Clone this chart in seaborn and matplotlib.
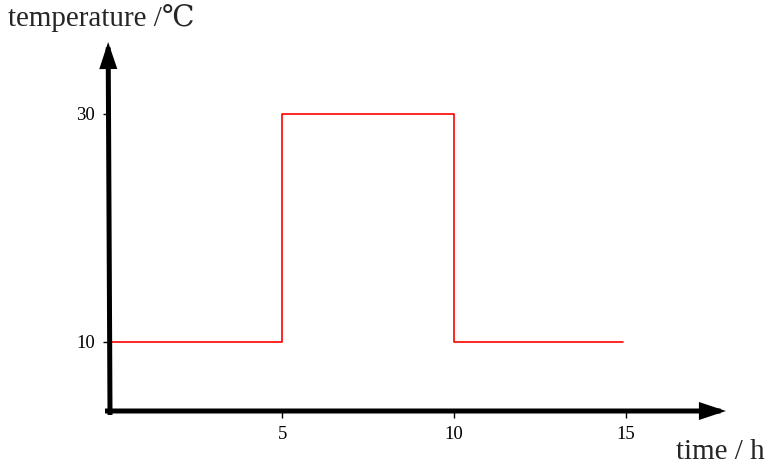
import matplotlib
matplotlib.use("Agg")
import matplotlib.pyplot as plt
import seaborn as sns
import pandas as pd

# step profile
time_h = [0, 5, 10, 14.9]
temp_c = [10, 30, 10, 10]
x_ticks = [5, 10, 15]
y_ticks = [10, 30]

sns.set_style("white")
plt.rcParams['font.family'] = ['Liberation Serif', 'DejaVu Serif']

df = pd.DataFrame({'time': time_h, 'temp': temp_c})

fig = plt.figure(figsize=(7.66, 4.70), dpi=100)
ax = fig.add_axes([110 / 766, 59 / 470, 616 / 766, 369 / 470])

sns.lineplot(data=df, x='time', y='temp', drawstyle='steps-post',
             estimator=None, sort=False, color='red', linewidth=1.2, ax=ax)

ax.set_xlim(0, 17.9)
ax.set_ylim(3.95, 36.3)

for s in ax.spines.values():
    s.set_visible(False)

# axis arrows
arrow = dict(arrowstyle='-|>,head_length=1.2,head_width=0.4', color='black',
             linewidth=3.6, shrinkA=0, shrinkB=0, capstyle='projecting',
             joinstyle='miter')
ax.annotate('', xy=(1, 0), xytext=(-0.004, 0), xycoords='axes fraction',
            arrowprops=arrow, annotation_clip=False)
ax.annotate('', xy=(-0.003, 1), xytext=(0, -0.004), xycoords='axes fraction',
            arrowprops=arrow, annotation_clip=False)

ax.set_xticks(x_ticks)
ax.set_yticks(y_ticks)
ax.tick_params(axis='both', direction='out', length=5, width=1, colors='black',
               labelsize=13.5, pad=6)
ax.tick_params(axis='x', bottom=True)
ax.tick_params(axis='y', left=True)
ax.set_xlabel('')
ax.set_ylabel('')

fig.text(8 / 766, 1 - 18 / 470, 'temperature /\u2103', fontsize=21,
         ha='left', va='center')
fig.text(765 / 766, 1 - 452 / 470, 'time / h', fontsize=21,
         ha='right', va='center')

fig.savefig('out.png', dpi=100)
